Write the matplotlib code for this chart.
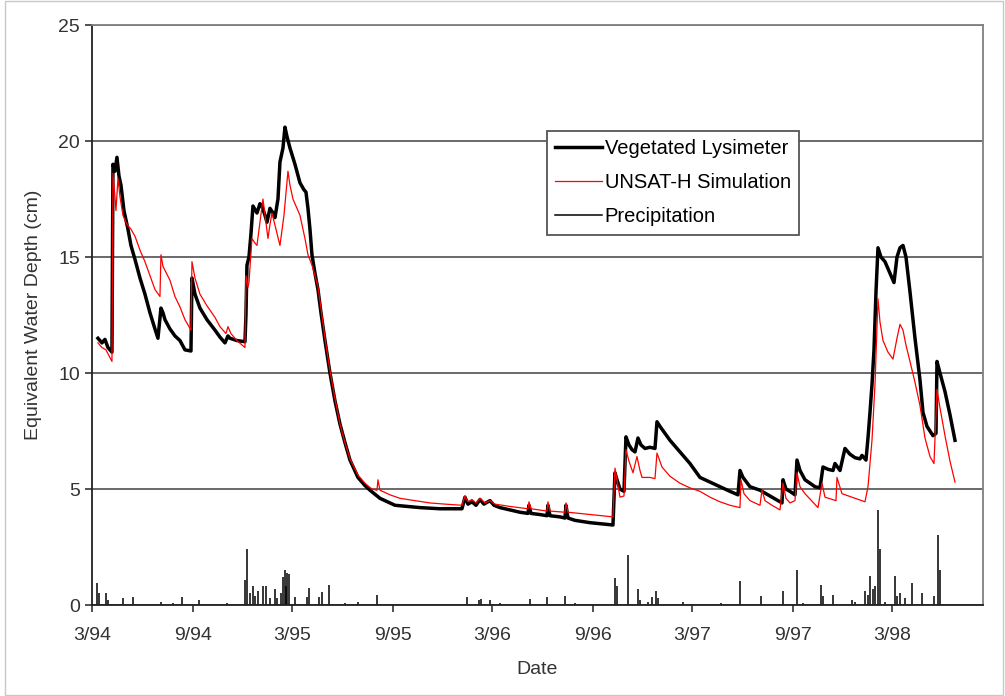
import matplotlib
matplotlib.use('Agg')
import matplotlib.pyplot as plt
from matplotlib.lines import Line2D
from matplotlib.patches import Rectangle

# time in decimal years (3/94 = 1994.162)
lys_t = [1994.192, 1994.212, 1994.227, 1994.242, 1994.262, 1994.267, 1994.277, 1994.287,
         1994.297, 1994.307, 1994.322, 1994.342, 1994.357, 1994.377, 1994.402, 1994.427,
         1994.452, 1994.477, 1994.492, 1994.507, 1994.517, 1994.527, 1994.552, 1994.577,
         1994.602, 1994.627, 1994.657, 1994.662, 1994.677, 1994.702, 1994.737, 1994.777,
         1994.802, 1994.827, 1994.842, 1994.852, 1994.887, 1994.927, 1994.932, 1994.937,
         1994.947, 1994.957, 1994.967, 1994.987, 1995.002, 1995.012, 1995.027, 1995.037,
         1995.052, 1995.067, 1995.077, 1995.092, 1995.102, 1995.117, 1995.127, 1995.137,
         1995.152, 1995.177, 1995.202, 1995.222, 1995.232, 1995.242, 1995.252, 1995.262,
         1995.277, 1995.292, 1995.307, 1995.327, 1995.352, 1995.377, 1995.402, 1995.427,
         1995.452, 1995.492, 1995.527, 1995.552, 1995.602, 1995.677, 1995.802, 1995.902,
         1996.012, 1996.027, 1996.042, 1996.062, 1996.082, 1996.102, 1996.122, 1996.152,
         1996.172, 1996.202, 1996.252, 1996.302, 1996.342, 1996.347, 1996.357, 1996.402,
         1996.437, 1996.442, 1996.452, 1996.502, 1996.527, 1996.532, 1996.542, 1996.577,
         1996.652, 1996.767, 1996.777, 1996.787, 1996.802, 1996.822, 1996.832, 1996.847,
         1996.862, 1996.877, 1996.892, 1996.907, 1996.927, 1996.952, 1996.977, 1996.987,
         1997.002, 1997.052, 1997.102, 1997.152, 1997.202, 1997.252, 1997.302, 1997.352,
         1997.392, 1997.402, 1997.417, 1997.452, 1997.502, 1997.552, 1997.612, 1997.617,
         1997.632, 1997.652, 1997.677, 1997.687, 1997.702, 1997.727, 1997.777, 1997.802,
         1997.817, 1997.842, 1997.867, 1997.877, 1997.902, 1997.927, 1997.952, 1997.977,
         1998.002, 1998.012, 1998.032, 1998.042, 1998.052, 1998.062, 1998.072, 1998.082,
         1998.092, 1998.107, 1998.127, 1998.152, 1998.172, 1998.187, 1998.202, 1998.217,
         1998.232, 1998.252, 1998.277, 1998.302, 1998.317, 1998.337, 1998.367, 1998.382,
         1998.387, 1998.402, 1998.427, 1998.452, 1998.477]
lys_v = [11.5, 11.3, 11.45, 11.1, 10.9, 19.0, 18.7, 19.3,
         18.5, 18.1, 17.0, 16.2, 15.5, 14.9, 14.1, 13.4,
         12.6, 11.9, 11.5, 12.8, 12.6, 12.3, 11.9, 11.6,
         11.4, 11.0, 10.95, 14.1, 13.4, 12.8, 12.3, 11.85,
         11.55, 11.3, 11.6, 11.5, 11.4, 11.35, 12.5, 14.65,
         15.0, 16.0, 17.2, 16.9, 17.3, 17.2, 16.8, 16.5,
         17.1, 16.9, 16.7, 17.5, 19.1, 19.7, 20.6, 20.2,
         19.7, 19.0, 18.2, 17.9, 17.8, 17.1, 16.2, 15.1,
         14.3, 13.6, 12.6, 11.4, 10.0, 8.8, 7.8, 7.0,
         6.25, 5.5, 5.15, 4.95, 4.6, 4.3, 4.2, 4.15,
         4.15, 4.65, 4.35, 4.45, 4.3, 4.55, 4.35, 4.5,
         4.3, 4.2, 4.1, 4.0, 3.95, 4.3, 3.95, 3.9,
         3.85, 4.3, 3.85, 3.8, 3.75, 4.3, 3.75, 3.65,
         3.55, 3.45, 5.7, 5.4, 5.0, 4.9, 7.25, 6.9,
         6.7, 6.6, 7.2, 6.9, 6.75, 6.8, 6.75, 7.9,
         7.7, 7.1, 6.6, 6.1, 5.5, 5.3, 5.1, 4.9,
         4.75, 5.8, 5.5, 5.1, 4.95, 4.7, 4.4, 5.4,
         5.0, 4.9, 4.75, 6.25, 5.8, 5.4, 5.1, 5.05,
         5.95, 5.85, 5.8, 6.1, 5.8, 6.75, 6.5, 6.35,
         6.3, 6.45, 6.25, 7.2, 8.3, 9.5, 11.0, 13.5,
         15.4, 15.0, 14.8, 14.3, 13.9, 15.0, 15.4, 15.5,
         15.0, 13.5, 11.5, 9.7, 8.3, 7.7, 7.3, 7.4,
         10.5, 10.0, 9.2, 8.2, 7.1]

sim_t = [1994.192, 1994.212, 1994.232, 1994.262, 1994.267, 1994.277, 1994.282, 1994.292,
         1994.302, 1994.317, 1994.337, 1994.357, 1994.377, 1994.402, 1994.427, 1994.452,
         1994.477, 1994.502, 1994.507, 1994.517, 1994.552, 1994.577, 1994.602, 1994.627,
         1994.657, 1994.662, 1994.677, 1994.702, 1994.737, 1994.777, 1994.802, 1994.832,
         1994.842, 1994.857, 1994.887, 1994.927, 1994.932, 1994.942, 1994.947, 1994.962,
         1994.977, 1994.987, 1995.002, 1995.017, 1995.032, 1995.042, 1995.052, 1995.062,
         1995.082, 1995.102, 1995.122, 1995.142, 1995.152, 1995.167, 1995.187, 1995.202,
         1995.227, 1995.242, 1995.262, 1995.277, 1995.292, 1995.307, 1995.327, 1995.352,
         1995.377, 1995.402, 1995.427, 1995.452, 1995.492, 1995.527, 1995.562, 1995.587,
         1995.592, 1995.602, 1995.652, 1995.702, 1995.777, 1995.852, 1995.927, 1996.012,
         1996.027, 1996.042, 1996.062, 1996.082, 1996.102, 1996.127, 1996.152, 1996.177,
         1996.252, 1996.342, 1996.347, 1996.357, 1996.437, 1996.442, 1996.452, 1996.527,
         1996.532, 1996.542, 1996.652, 1996.767, 1996.777, 1996.787, 1996.802, 1996.822,
         1996.832, 1996.847, 1996.867, 1996.887, 1996.902, 1996.912, 1996.952, 1996.977,
         1996.987, 1997.012, 1997.052, 1997.102, 1997.152, 1997.202, 1997.252, 1997.302,
         1997.352, 1997.402, 1997.407, 1997.422, 1997.452, 1997.502, 1997.512, 1997.527,
         1997.562, 1997.602, 1997.617, 1997.632, 1997.652, 1997.677, 1997.687, 1997.702,
         1997.727, 1997.792, 1997.812, 1997.827, 1997.882, 1997.887, 1997.912, 1997.977,
         1998.027, 1998.042, 1998.062, 1998.077, 1998.092, 1998.102, 1998.117, 1998.142,
         1998.167, 1998.187, 1998.202, 1998.217, 1998.232, 1998.252, 1998.277, 1998.302,
         1998.327, 1998.352, 1998.372, 1998.387, 1998.402, 1998.427, 1998.452, 1998.477]
sim_v = [11.3, 11.1, 11.0, 10.5, 18.6, 17.6, 17.0, 18.4,
         17.6, 16.8, 16.4, 16.2, 15.9, 15.3, 14.8, 14.2,
         13.6, 13.3, 15.1, 14.6, 14.0, 13.3, 12.85, 12.3,
         11.85, 14.8, 14.1, 13.4, 12.9, 12.4, 12.0, 11.7,
         12.0, 11.7, 11.4, 11.1, 14.2, 13.7, 13.9, 15.8,
         15.6, 15.5, 16.5, 17.5, 16.5, 15.8, 16.4, 16.9,
         16.2, 15.5, 16.8, 18.7, 18.1, 17.5, 17.1, 16.8,
         15.8, 15.1, 14.65, 14.2, 13.7, 12.8, 11.5, 10.1,
         8.9, 7.8, 7.0, 6.3, 5.6, 5.25, 5.0, 4.95,
         5.4, 4.95, 4.75, 4.6, 4.5, 4.4, 4.35, 4.3,
         4.7, 4.45, 4.55, 4.4, 4.6, 4.4, 4.5, 4.35,
         4.25, 4.15, 4.45, 4.15, 4.05, 4.45, 4.05, 4.0,
         4.4, 4.0, 3.9, 3.8, 5.9, 5.4, 4.65, 4.7,
         6.7, 6.2, 5.7, 6.4, 5.8, 5.5, 5.5, 5.45,
         6.55, 5.95, 5.55, 5.25, 5.05, 4.9, 4.65, 4.45,
         4.3, 4.2, 5.4, 4.8, 4.5, 4.3, 4.95, 4.5,
         4.3, 4.1, 5.25, 4.6, 4.4, 4.5, 5.7, 5.1,
         4.8, 4.2, 5.25, 4.65, 4.5, 5.5, 4.8, 4.6,
         4.45, 5.1, 7.1, 9.5, 13.2, 12.2, 11.4, 10.9,
         10.6, 11.5, 12.1, 11.85, 11.2, 10.5, 9.6, 8.6,
         7.2, 6.4, 6.1, 9.3, 8.5, 7.3, 6.2, 5.3]

rain_t = [1994.187, 1994.197, 1994.232, 1994.242, 1994.317, 1994.367, 1994.507, 1994.567,
          1994.612, 1994.697, 1994.837, 1994.927, 1994.937, 1994.952, 1994.967, 1994.977,
          1994.992, 1995.017, 1995.032, 1995.052, 1995.077, 1995.087, 1995.107, 1995.117,
          1995.127, 1995.132, 1995.137, 1995.147, 1995.177, 1995.237, 1995.247, 1995.297,
          1995.312, 1995.347, 1995.427, 1995.492, 1995.587, 1996.037, 1996.097, 1996.107,
          1996.152, 1996.202, 1996.352, 1996.437, 1996.527, 1996.577, 1996.777, 1996.787,
          1996.842, 1996.892, 1996.902, 1996.942, 1996.962, 1996.982, 1996.992, 1997.117,
          1997.307, 1997.402, 1997.507, 1997.617, 1997.687, 1997.717, 1997.807, 1997.817,
          1997.867, 1997.962, 1997.977, 1998.027, 1998.042, 1998.052, 1998.067, 1998.077,
          1998.092, 1998.102, 1998.127, 1998.177, 1998.187, 1998.202, 1998.227, 1998.262,
          1998.312, 1998.372, 1998.392, 1998.402]
rain_v = [0.95, 0.5, 0.5, 0.2, 0.3, 0.35, 0.15, 0.1,
          0.35, 0.2, 0.1, 1.1, 2.4, 0.5, 0.8, 0.4,
          0.6, 0.8, 0.8, 0.3, 0.7, 0.3, 0.5, 1.2,
          1.5, 0.8, 1.4, 1.35, 0.35, 0.35, 0.75, 0.35,
          0.55, 0.85, 0.1, 0.15, 0.45, 0.35, 0.2, 0.25,
          0.2, 0.1, 0.25, 0.35, 0.4, 0.1, 1.15, 0.8,
          2.15, 0.7, 0.2, 0.15, 0.35, 0.6, 0.3, 0.15,
          0.1, 1.05, 0.4, 0.6, 1.5, 0.1, 0.85, 0.4,
          0.45, 0.2, 0.15, 0.6, 0.45, 1.25, 0.7, 0.8,
          4.1, 2.4, 0.15, 1.25, 0.4, 0.5, 0.3, 0.95,
          0.5, 0.4, 3.0, 1.5]

tick_pos = [1994.162, 1994.666, 1995.162, 1995.666, 1996.162, 1996.666,
            1997.162, 1997.666, 1998.162]
tick_lab = ['3/94', '9/94', '3/95', '9/95', '3/96', '9/96', '3/97', '9/97', '3/98']


def main():
    plt.rcParams['font.family'] = ['Liberation Sans', 'DejaVu Sans']
    fig = plt.figure(figsize=(10.05, 6.96), dpi=100)
    ax = fig.add_axes([0.0915, 0.1307, 0.8866, 0.8333])

    ax.grid(axis='y', color='#505050', lw=1.2, zorder=0)
    ax.vlines(rain_t, 0, rain_v, color='black', lw=1.1, zorder=2)
    ax.plot(sim_t, sim_v, color='red', lw=0.9, zorder=4)
    ax.plot(lys_t, lys_v, color='black', lw=2.5, zorder=3)

    ax.set_xlim(1994.162, 1998.617)
    ax.set_ylim(0, 25)
    ax.set_yticks([0, 5, 10, 15, 20, 25])
    ax.set_xticks(tick_pos)
    ax.set_xticklabels(tick_lab)
    ax.tick_params(labelsize=14, colors='#333333', length=5, width=1.2, direction='out')
    ax.tick_params(axis='x', pad=11)
    ax.set_xlabel('Date', fontsize=14, color='#333333', labelpad=12)
    ax.set_ylabel('Equivalent Water Depth (cm)', fontsize=14, color='#333333', labelpad=12)
    for s in ['left', 'bottom']:
        ax.spines[s].set_color('#222222')
        ax.spines[s].set_linewidth(1.3)
    for s in ['top', 'right']:
        ax.spines[s].set_color('#808080')
        ax.spines[s].set_linewidth(1.3)

    handles = [Line2D([], [], color='black', lw=2.5),
               Line2D([], [], color='red', lw=0.9),
               Line2D([], [], color='black', lw=1.1)]
    leg = ax.legend(handles, ['Vegetated Lysimeter', 'UNSAT-H Simulation', 'Precipitation'],
                    loc='upper left', bbox_to_anchor=(0.511, 0.817), fontsize=14.5,
                    fancybox=False, framealpha=1, edgecolor='#555555',
                    handlelength=2.3, handletextpad=0.15, labelspacing=0.75,
                    borderpad=0.4, borderaxespad=0)
    leg.get_frame().set_linewidth(1.3)
    leg.set_zorder(10)

    fig.patches.append(Rectangle((5 / 1005, 1 / 696), 998 / 1005, 694 / 696,
                                 transform=fig.transFigure, fill=False,
                                 edgecolor='#c8c8c8', lw=1))
    fig.savefig('out.png', dpi=100)


if __name__ == '__main__':
    main()
